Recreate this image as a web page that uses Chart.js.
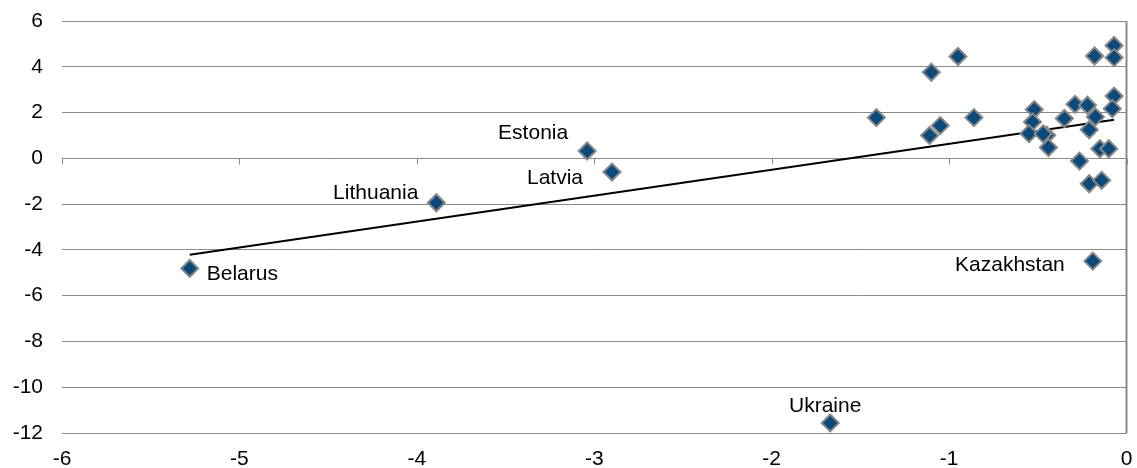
<!DOCTYPE html>
<html>
<head>
<meta charset="utf-8">
<script src="https://cdn.jsdelivr.net/npm/chart.js@4"></script>
<style>
  html, body { margin: 0; padding: 0; background: #ffffff; }
  #wrap { width: 1137px; height: 468px; }
</style>
</head>
<body>
<div id="wrap"><canvas id="c" width="1137" height="468"></canvas></div>
<script>
// ---- data ----
const xValues = [-5.28, -3.89, -3.04, -2.90, -1.67, -0.19,
  -1.41, -1.10, -0.95, -1.11, -1.05, -0.86,
  -0.52, -0.53, -0.55, -0.45, -0.47, -0.44,
  -0.35, -0.29, -0.22, -0.175, -0.21, -0.265,
  -0.21, -0.14, -0.15, -0.10, -0.07, -0.08,
  -0.18, -0.07, -0.07];
const yValues = [-4.81, -1.94, 0.32, -0.60, -11.56, -4.49,
  1.78, 3.76, 4.45, 1.00, 1.43, 1.78,
  2.13, 1.59, 1.08, 1.01, 1.07, 0.47,
  1.74, 2.36, 2.32, 1.81, 1.25, -0.12,
  -1.11, -0.96, 0.42, 0.42, 2.72, 2.17,
  4.47, 4.93, 4.40];
const pointNames = ['Belarus', 'Lithuania', 'Estonia', 'Latvia', 'Ukraine', 'Kazakhstan'];
const xTicks = [-6, -5, -4, -3, -2, -1, 0];
const yTicks = [-12, -10, -8, -6, -4, -2, 0, 2, 4, 6];

// ---- label placement (styling) ----
const labelPlacement = {
  Belarus:    { dx: 17,  dy: 6,   align: 'left' },
  Lithuania:  { dx: -18, dy: -10, align: 'right' },
  Estonia:    { dx: -19, dy: -18, align: 'right' },
  Latvia:     { dx: -29, dy: 6,   align: 'right' },
  Ukraine:    { dx: -5,  dy: -17, align: 'center' },
  Kazakhstan: { dx: -28, dy: 4,   align: 'right' }
};

const points = xValues.map((x, i) => ({ x: x, y: yValues[i] }));

// least-squares trend line
const n = xValues.length;
const mx = xValues.reduce((a, b) => a + b, 0) / n;
const my = yValues.reduce((a, b) => a + b, 0) / n;
let sxy = 0, sxx = 0;
for (let i = 0; i < n; i++) { sxy += (xValues[i] - mx) * (yValues[i] - my); sxx += (xValues[i] - mx) ** 2; }
const slope = sxy / sxx, intercept = my - slope * mx;
const xMin = Math.min(...xValues), xMax = Math.max(...xValues);
const trend = [{ x: xMin, y: intercept + slope * xMin }, { x: xMax, y: intercept + slope * xMax }];

const FONT = '"Liberation Sans", Arial, sans-serif';
const GRID = '#8a8a8a';

const extras = {
  id: 'extras',
  afterDatasetsDraw(chart) {
    const ctx = chart.ctx, xs = chart.scales.x, ys = chart.scales.y, area = chart.chartArea;
    ctx.save();
    // right border of plot area
    ctx.strokeStyle = GRID; ctx.lineWidth = 2;
    ctx.beginPath(); ctx.moveTo(area.right, area.top); ctx.lineTo(area.right, area.bottom); ctx.stroke();
    // tick marks on the horizontal axis crossing at y = 0
    const y0 = Math.round(ys.getPixelForValue(0)) + 0.5;
    ctx.lineWidth = 1;
    ctx.beginPath();
    xTicks.forEach(t => { const px = Math.round(xs.getPixelForValue(t)) + 0.5; ctx.moveTo(px, y0); ctx.lineTo(px, y0 + 6); });
    ctx.stroke();
    // data labels
    ctx.fillStyle = '#000000';
    ctx.font = '21px ' + FONT;
    ctx.textBaseline = 'middle';
    pointNames.forEach((name, i) => {
      const p = labelPlacement[name];
      const px = xs.getPixelForValue(xValues[i]), py = ys.getPixelForValue(yValues[i]);
      ctx.textAlign = p.align;
      ctx.fillText(name, px + p.dx, py + p.dy);
    });
    ctx.restore();
  }
};

new Chart(document.getElementById('c'), {
  type: 'scatter',
  data: {
    datasets: [
      {
        type: 'line',
        data: trend,
        borderColor: '#000000',
        borderWidth: 2,
        pointRadius: 0,
        fill: false,
        order: 2
      },
      {
        data: points,
        pointStyle: 'rectRot',
        pointRadius: 8.5,
        pointHoverRadius: 8.5,
        backgroundColor: '#0b4a7b',
        borderColor: '#878787',
        borderWidth: 2,
        order: 1
      }
    ]
  },
  options: {
    responsive: false,
    animation: false,
    events: [],
    layout: { padding: { left: 0, right: 6, top: 21, bottom: 0 } },
    plugins: { legend: { display: false }, tooltip: { enabled: false } },
    scales: {
      x: {
        type: 'linear',
        min: -6, max: 0,
        afterBuildTicks: s => { s.ticks = xTicks.map(v => ({ value: v })); },
        afterFit: s => { s.height = 35; s.paddingLeft = 0; s.paddingRight = 0; },
        grid: { display: false, drawTicks: false },
        border: { display: true, color: GRID, width: 1 },
        ticks: { color: '#000000', font: { family: FONT, size: 21 }, padding: 14, maxRotation: 0 }
      },
      y: {
        type: 'linear',
        min: -12, max: 6,
        afterBuildTicks: s => { s.ticks = yTicks.map(v => ({ value: v })); },
        afterFit: s => { s.width = 62; s.paddingTop = 0; s.paddingBottom = 0; },
        grid: { display: true, color: GRID, lineWidth: 1, drawTicks: false },
        border: { display: false },
        ticks: { color: '#000000', font: { family: FONT, size: 21 }, padding: 19 }
      }
    }
  },
  plugins: [extras]
});
</script>
</body>
</html>
